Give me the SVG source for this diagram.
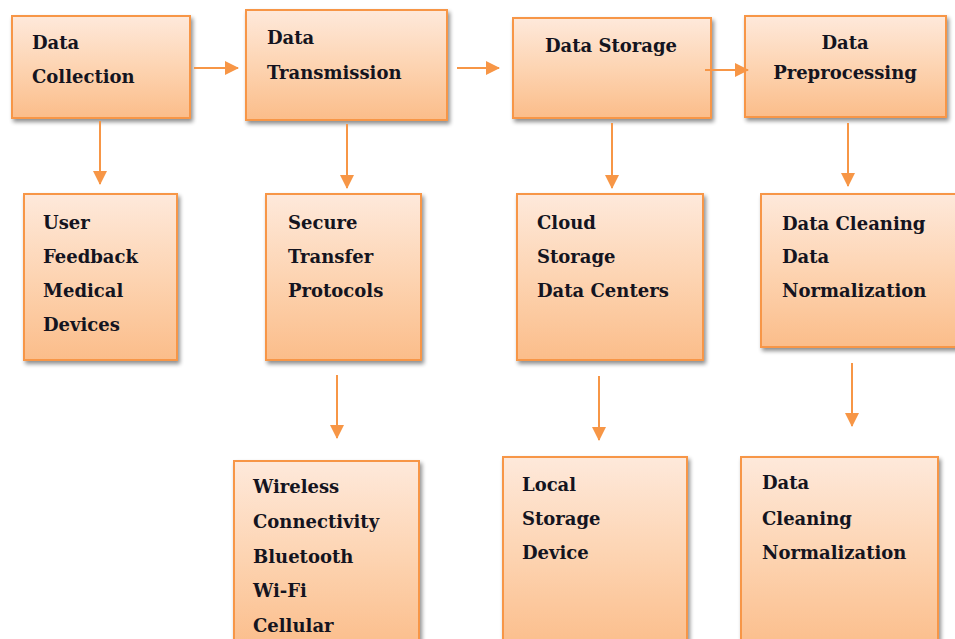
<svg xmlns="http://www.w3.org/2000/svg" width="955" height="639" viewBox="0 0 955 639">
<defs>
<linearGradient id="g" x1="0" y1="0" x2="0" y2="1">
<stop offset="0" stop-color="#fee9db"/>
<stop offset="0.5" stop-color="#fdd4b2"/>
<stop offset="1" stop-color="#fbbd8a"/>
</linearGradient>
<filter id="sh" x="-10%" y="-10%" width="125%" height="125%">
<feGaussianBlur in="SourceAlpha" stdDeviation="2"/>
<feOffset dx="2" dy="3" result="b"/>
<feComponentTransfer><feFuncA type="linear" slope="0.45"/></feComponentTransfer>
<feMerge><feMergeNode/><feMergeNode in="SourceGraphic"/></feMerge>
</filter>
<marker id="ah" viewBox="0 0 14 14" refX="13" refY="7" markerWidth="14" markerHeight="14" markerUnits="userSpaceOnUse" orient="auto">
<path d="M0,0 L14,7 L0,14 Z" fill="#f79646"/>
</marker>
</defs>
<style>
.box{fill:url(#g);stroke:#f79646;stroke-width:2;filter:url(#sh)}
.t{font-family:"DejaVu Serif","Liberation Serif",serif;font-weight:bold;font-size:18px;fill:#141420}
.c{stroke:#f79646;stroke-width:2;fill:none;marker-end:url(#ah)}
</style>
<g id="data-collection">
<rect class="box" x="12" y="16" width="178" height="102"/>
<text class="t" x="32" y="49">Data</text>
<text class="t" x="32" y="83">Collection</text>
</g>
<g id="data-transmission">
<rect class="box" x="246" y="10" width="201" height="110"/>
<text class="t" x="267" y="44">Data</text>
<text class="t" x="267" y="79">Transmission</text>
</g>
<g id="data-storage">
<rect class="box" x="513" y="18" width="198" height="100"/>
<text class="t" x="545" y="52">Data Storage</text>
</g>
<g id="data-preprocessing">
<rect class="box" x="745" y="16" width="201" height="101"/>
<text class="t" x="845" y="49" text-anchor="middle">Data</text>
<text class="t" x="845" y="79" text-anchor="middle">Preprocessing</text>
</g>
<g id="user-feedback">
<rect class="box" x="24" y="194" width="153" height="166"/>
<text class="t" x="43" y="229">User</text>
<text class="t" x="43" y="263">Feedback</text>
<text class="t" x="43" y="297">Medical</text>
<text class="t" x="43" y="331">Devices</text>
</g>
<g id="secure-transfer">
<rect class="box" x="266" y="194" width="155" height="166"/>
<text class="t" x="288" y="229">Secure</text>
<text class="t" x="288" y="263">Transfer</text>
<text class="t" x="288" y="297">Protocols</text>
</g>
<g id="cloud-storage">
<rect class="box" x="517" y="194" width="186" height="166"/>
<text class="t" x="537" y="229">Cloud</text>
<text class="t" x="537" y="263">Storage</text>
<text class="t" x="537" y="297">Data Centers</text>
</g>
<g id="data-cleaning">
<rect class="box" x="761" y="194" width="200" height="153"/>
<text class="t" x="782" y="230">Data Cleaning</text>
<text class="t" x="782" y="263">Data</text>
<text class="t" x="782" y="297">Normalization</text>
</g>
<g id="wireless">
<rect class="box" x="234" y="461" width="185" height="190"/>
<text class="t" x="253" y="493">Wireless</text>
<text class="t" x="253" y="528">Connectivity</text>
<text class="t" x="253" y="563">Bluetooth</text>
<text class="t" x="253" y="597">Wi-Fi</text>
<text class="t" x="253" y="632">Cellular</text>
</g>
<g id="local-storage">
<rect class="box" x="503" y="457" width="184" height="194"/>
<text class="t" x="522" y="491">Local</text>
<text class="t" x="522" y="525">Storage</text>
<text class="t" x="522" y="559">Device</text>
</g>
<g id="cleaning-normalization">
<rect class="box" x="741" y="457" width="197" height="194"/>
<text class="t" x="762" y="489">Data</text>
<text class="t" x="762" y="525">Cleaning</text>
<text class="t" x="762" y="559">Normalization</text>
</g>
<g id="connectors">
<line class="c" x1="194" y1="68" x2="238" y2="68"/>
<line class="c" x1="457" y1="68" x2="499" y2="68"/>
<line class="c" x1="705" y1="70" x2="748" y2="70"/>
<line class="c" x1="100" y1="121" x2="100" y2="184"/>
<line class="c" x1="347" y1="124" x2="347" y2="188"/>
<line class="c" x1="612" y1="123" x2="612" y2="188"/>
<line class="c" x1="848" y1="123" x2="848" y2="186"/>
<line class="c" x1="337" y1="375" x2="337" y2="438"/>
<line class="c" x1="599" y1="376" x2="599" y2="440"/>
<line class="c" x1="852" y1="363" x2="852" y2="426"/>
</g>
</svg>
